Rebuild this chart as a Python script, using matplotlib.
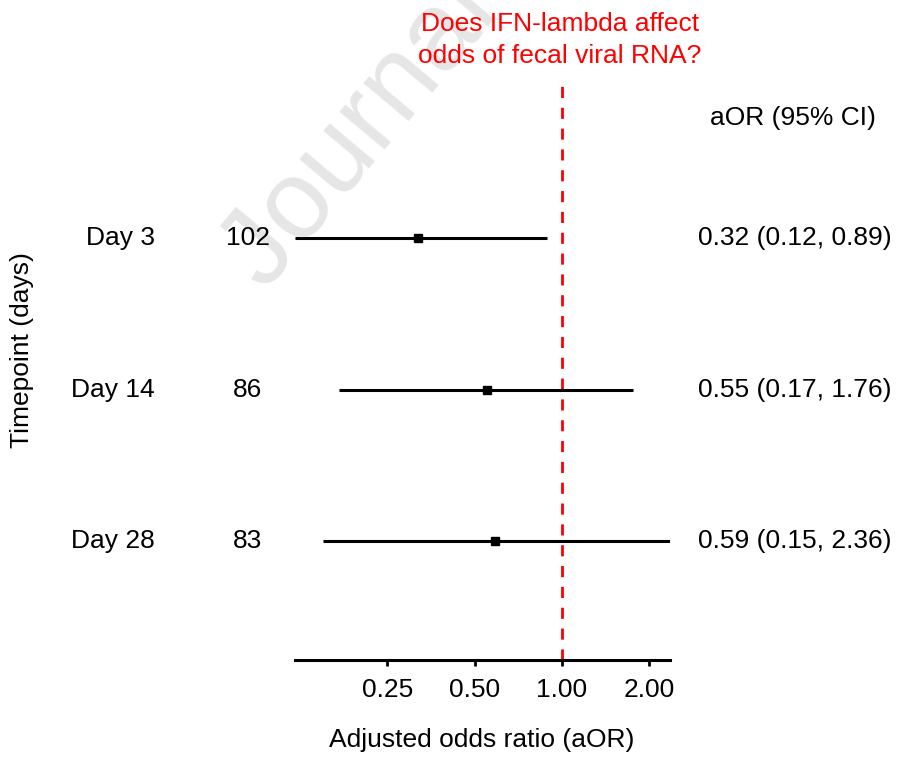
import numpy as np
import matplotlib.pyplot as plt

plt.rcParams['font.family'] = ['Liberation Sans', 'DejaVu Sans']

# forest plot data
days = ['Day 3', 'Day 14', 'Day 28']
n_obs = ['102', '86', '83']
aor = [0.32, 0.55, 0.59]
ci_low = [0.12, 0.17, 0.15]
ci_high = [0.89, 1.76, 2.36]
xticks = [0.25, 0.5, 1.0, 2.0]
xtick_labels = ['0.25', '0.50', '1.00', '2.00']

ypos = [3, 2, 1]
fs = 19

fig = plt.figure(figsize=(8.98, 7.58), dpi=100)
ax = fig.add_axes([295/898, 1 - 660/758, 375/898, 582/758])

# watermark
fig.text(265/898, 1 - 292/758, 'Journal Pre-proof', fontsize=80, color='#e6e6e6',
         rotation=50, rotation_mode='anchor', ha='left', va='baseline', zorder=0)

for y, m, lo, hi in zip(ypos, aor, ci_low, ci_high):
    ax.plot([lo, hi], [y, y], color='black', lw=2.2, solid_capstyle='butt', zorder=3)
    ax.plot(m, y, marker='s', color='black', ms=6, zorder=4)

ax.axvline(1.0, color='red', ls=(0, (4, 3.5)), lw=2, zorder=2)

ax.set_xscale('log', base=2)
ax.set_xlim(0.12, 2.36)
ax.set_ylim(0.215, 4.06)
ax.set_xticks(xticks)
ax.set_xticklabels(xtick_labels, fontsize=fs)
ax.minorticks_off()
ax.set_yticks([])
ax.tick_params(axis='x', length=4, width=2, pad=9)
for s in ['top', 'right', 'left']:
    ax.spines[s].set_visible(False)
ax.spines['bottom'].set_linewidth(2.2)
ax.patch.set_alpha(0)

for y, d, n, m, lo, hi in zip(ypos, days, n_obs, aor, ci_low, ci_high):
    yf = ax.transData.transform((1, y))[1]
    yfig = yf / fig.bbox.height
    fig.text(155/898, yfig, d, fontsize=fs, ha='right', va='center')
    fig.text(248/898, yfig, n, fontsize=fs, ha='center', va='center')
    fig.text(698/898, yfig, f'{m:.2f} ({lo:.2f}, {hi:.2f})', fontsize=fs,
             ha='left', va='center')

fig.text(793/898, 1 - 118/758, 'aOR (95% CI)', fontsize=fs, ha='center', va='center')
fig.text(560/898, 1 - 40/758, 'Does IFN-lambda affect\nodds of fecal viral RNA?',
         fontsize=fs, color='red', ha='center', va='center', linespacing=1.45)
fig.text(22/898, 1 - 350/758, 'Timepoint (days)', fontsize=fs, rotation=90,
         ha='center', va='center')
fig.text(482/898, 1 - 740/758, 'Adjusted odds ratio (aOR)', fontsize=fs,
         ha='center', va='center')

fig.savefig('out.png', dpi=100)
